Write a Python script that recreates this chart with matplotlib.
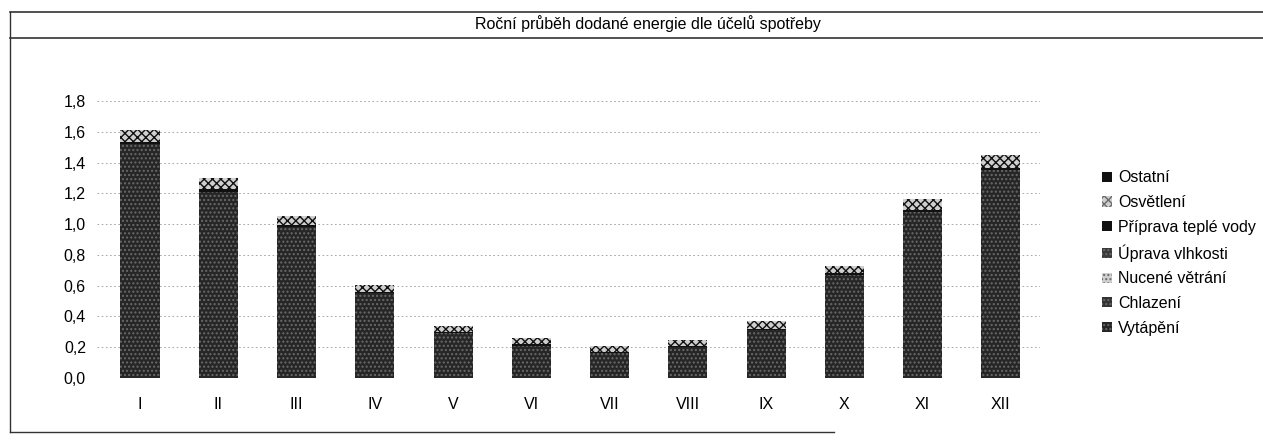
import matplotlib.pyplot as plt
from matplotlib.patches import Rectangle
from matplotlib.lines import Line2D

plt.rcParams['font.family'] = ['Liberation Sans', 'DejaVu Sans']

months = ["I", "II", "III", "IV", "V", "VI", "VII", "VIII", "IX", "X", "XI", "XII"]
vytapeni = [1.52, 1.21, 0.98, 0.55, 0.29, 0.21, 0.16, 0.20, 0.31, 0.67, 1.08, 1.35]
chlazeni = [0] * 12
nucene_vetrani = [0] * 12
uprava_vlhkosti = [0] * 12
priprava_tv = [0.015, 0.015, 0.012, 0.01, 0.01, 0.01, 0.01, 0.01, 0.01, 0.012, 0.013, 0.015]
osvetleni = [0.075, 0.075, 0.058, 0.045, 0.04, 0.04, 0.04, 0.04, 0.05, 0.048, 0.067, 0.085]
ostatni = [0] * 12

series = [
    ("Vytápění", vytapeni, "#262626", "...."),
    ("Chlazení", chlazeni, "#333333", "...."),
    ("Nucené větrání", nucene_vetrani, "#d0d0d0", "...."),
    ("Úprava vlhkosti", uprava_vlhkosti, "#3a3a3a", "...."),
    ("Příprava teplé vody", priprava_tv, "#111111", None),
    ("Osvětlení", osvetleni, "#cfcfcf", "xxxx"),
    ("Ostatní", ostatni, "#111111", None),
]


def main() -> None:
    fig = plt.figure(figsize=(12.63, 4.44), dpi=100)
    ax = fig.add_axes([97 / 1263, 1 - 378 / 444, 943 / 1263, 277 / 444])

    x = range(len(months))
    bottom = [0.0] * 12
    handles = []
    for name, vals, color, hatch in series:
        ax.bar(x, vals, 0.5, bottom=bottom, color=color, hatch=hatch,
               edgecolor="#111111" if hatch != "...." else "#6a6a6a",
               linewidth=0.0, zorder=2)
        bottom = [b + v for b, v in zip(bottom, vals)]
        handles.append(Rectangle((0, 0), 1, 1, facecolor=color, hatch=hatch,
                                 edgecolor="#6a6a6a", linewidth=0))

    ax.set_ylim(0, 1.8)
    ax.set_xlim(-0.55, 11.5)
    ax.set_yticks([i * 0.2 for i in range(10)])
    ax.set_yticklabels([f"{i * 0.2:.1f}".replace(".", ",") for i in range(10)])
    ax.set_xticks(list(x))
    ax.set_xticklabels(months)
    ax.tick_params(length=0, labelsize=11.5)
    ax.tick_params(axis="y", pad=8)
    ax.tick_params(axis="x", pad=14)
    ax.grid(axis="y", color="#999999", linestyle=(0, (2, 3)), linewidth=0.6, zorder=0)
    for s in ax.spines.values():
        s.set_visible(False)

    names = [s[0] for s in series][::-1]
    fig.legend(handles[::-1], names, loc="center left",
               bbox_to_anchor=(1088 / 1263, 1 - 253 / 444), frameon=False,
               fontsize=11.5, handlelength=0.6, handleheight=0.6,
               handletextpad=0.4, labelspacing=0.6)

    # title band and outer frame
    fig.add_artist(Line2D([10 / 1263, 1], [1 - 12 / 444, 1 - 12 / 444], color="#333333", lw=1.2))
    fig.add_artist(Line2D([10 / 1263, 1], [1 - 38 / 444, 1 - 38 / 444], color="#333333", lw=1.2))
    fig.add_artist(Line2D([10 / 1263, 10 / 1263], [1 - 12 / 444, 1 - 432 / 444], color="#333333", lw=1.0))
    fig.add_artist(Line2D([10 / 1263, 0.66], [1 - 432 / 444, 1 - 432 / 444], color="#333333", lw=1.0))
    fig.text(648 / 1263, 1 - 24 / 444, "Roční průběh dodané energie dle účelů spotřeby",
             ha="center", va="center", fontsize=11.5)

    fig.savefig("out.png", dpi=100)


if __name__ == "__main__":
    main()
